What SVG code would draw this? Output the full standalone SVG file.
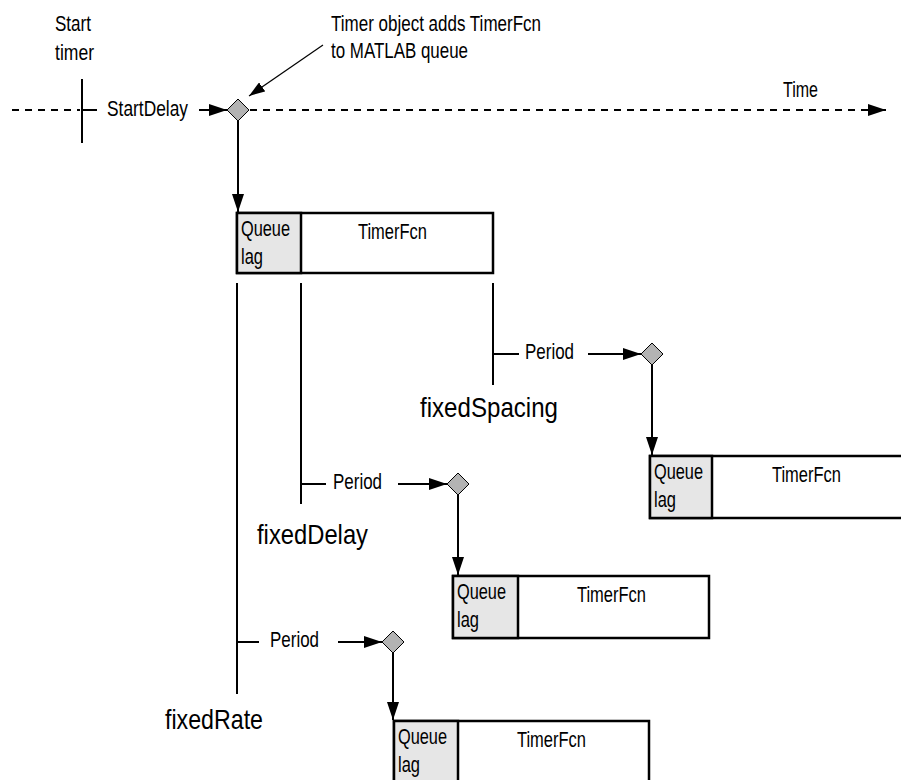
<svg xmlns="http://www.w3.org/2000/svg" width="901" height="780" viewBox="0 0 901 780">
<defs>
<style>
text{font-family:"Liberation Sans",Arial,sans-serif;fill:#000}
.s{font-size:22px}
.b{font-size:28px}
.ln{stroke:#000;stroke-width:2;fill:none}
.dash{stroke:#000;stroke-width:2;fill:none;stroke-dasharray:7 6}
.thin{stroke:#000;stroke-width:1.2;fill:none}
.dia{fill:#b3b3b3;stroke:#000;stroke-width:1}
.box{fill:#fff;stroke:#000;stroke-width:2.5}
.lag{fill:#e6e6e6;stroke:#000;stroke-width:2.5}
</style>
<marker id="ah" markerUnits="userSpaceOnUse" markerWidth="18" markerHeight="12" refX="18" refY="6" orient="auto">
<path d="M0,0 L18,6 L0,12 z" fill="#000"/>
</marker>
<marker id="ah2" markerUnits="userSpaceOnUse" markerWidth="16" markerHeight="11" refX="16" refY="5.5" orient="auto">
<path d="M0,0 L16,5.5 L0,11 z" fill="#000"/>
</marker>
</defs>

<g id="labels">
<text class="s" x="55" y="31" textLength="36" lengthAdjust="spacingAndGlyphs">Start</text>
<text class="s" x="55" y="60" textLength="39" lengthAdjust="spacingAndGlyphs">timer</text>
<text class="s" x="331" y="31" textLength="210" lengthAdjust="spacingAndGlyphs">Timer object adds TimerFcn</text>
<text class="s" x="331" y="58" textLength="137" lengthAdjust="spacingAndGlyphs">to MATLAB queue</text>
<text class="s" x="783" y="97" textLength="35" lengthAdjust="spacingAndGlyphs">Time</text>
<text class="s" x="107" y="116" textLength="81" lengthAdjust="spacingAndGlyphs">StartDelay</text>
<text class="s" x="525" y="359" textLength="49" lengthAdjust="spacingAndGlyphs">Period</text>
<text class="s" x="333" y="489" textLength="49" lengthAdjust="spacingAndGlyphs">Period</text>
<text class="s" x="270" y="647" textLength="49" lengthAdjust="spacingAndGlyphs">Period</text>
<text class="b" x="420" y="417" textLength="138" lengthAdjust="spacingAndGlyphs">fixedSpacing</text>
<text class="b" x="257" y="544" textLength="111" lengthAdjust="spacingAndGlyphs">fixedDelay</text>
<text class="b" x="165" y="729" textLength="98" lengthAdjust="spacingAndGlyphs">fixedRate</text>
</g>

<g id="connectors">
<line class="dash" x1="12" y1="110" x2="80" y2="110"/>
<line class="ln" x1="82" y1="79" x2="82" y2="143"/>
<line class="ln" x1="82" y1="110" x2="97" y2="110"/>
<line class="ln" x1="199" y1="110" x2="227" y2="110" marker-end="url(#ah)"/>
<line class="dash" x1="250" y1="110" x2="866" y2="110"/>
<line class="ln" x1="862" y1="110" x2="886" y2="110" marker-end="url(#ah)"/>
<line class="thin" x1="323" y1="45" x2="249" y2="96" marker-end="url(#ah2)"/>
<line class="ln" x1="238" y1="121" x2="238" y2="212" marker-end="url(#ah)"/>

<line class="ln" x1="237" y1="283" x2="237" y2="694"/>
<line class="ln" x1="301" y1="283" x2="301" y2="504"/>
<line class="ln" x1="493" y1="283" x2="493" y2="385"/>

<line class="ln" x1="493" y1="354" x2="519" y2="354"/>
<line class="ln" x1="588" y1="354" x2="641" y2="354" marker-end="url(#ah)"/>
<line class="ln" x1="652" y1="365" x2="652" y2="455" marker-end="url(#ah)"/>

<line class="ln" x1="301" y1="484" x2="326" y2="484"/>
<line class="ln" x1="398" y1="484" x2="447" y2="484" marker-end="url(#ah)"/>
<line class="ln" x1="458" y1="495" x2="458" y2="575" marker-end="url(#ah)"/>

<line class="ln" x1="237" y1="642" x2="259" y2="642"/>
<line class="ln" x1="338" y1="642" x2="382" y2="642" marker-end="url(#ah)"/>
<line class="ln" x1="393" y1="653" x2="393" y2="720" marker-end="url(#ah)"/>
</g>

<g id="diamond-start"><path class="dia" d="M238,99 L249,110 L238,121 L227,110 z"/></g>
<g id="diamond-spacing"><path class="dia" d="M652,343 L663,354 L652,365 L641,354 z"/></g>
<g id="diamond-delay"><path class="dia" d="M458,473 L469,484 L458,495 L447,484 z"/></g>
<g id="diamond-rate"><path class="dia" d="M393,631 L404,642 L393,653 L382,642 z"/></g>

<g id="box-first">
<rect class="box" x="237" y="213" width="256" height="60"/>
<rect class="lag" x="237" y="213" width="64" height="60"/>
<text class="s" x="241" y="236" textLength="49" lengthAdjust="spacingAndGlyphs">Queue</text>
<text class="s" x="241" y="264" textLength="22" lengthAdjust="spacingAndGlyphs">lag</text>
<text class="s" x="358" y="239" textLength="69" lengthAdjust="spacingAndGlyphs">TimerFcn</text>
</g>

<g id="box-spacing">
<rect class="box" x="650" y="456" width="270" height="62"/>
<rect class="lag" x="650" y="456" width="62" height="62"/>
<text class="s" x="654" y="479" textLength="49" lengthAdjust="spacingAndGlyphs">Queue</text>
<text class="s" x="654" y="507" textLength="22" lengthAdjust="spacingAndGlyphs">lag</text>
<text class="s" x="772" y="482" textLength="69" lengthAdjust="spacingAndGlyphs">TimerFcn</text>
</g>

<g id="box-delay">
<rect class="box" x="453" y="576" width="256" height="62"/>
<rect class="lag" x="453" y="576" width="65" height="62"/>
<text class="s" x="457" y="599" textLength="49" lengthAdjust="spacingAndGlyphs">Queue</text>
<text class="s" x="457" y="627" textLength="22" lengthAdjust="spacingAndGlyphs">lag</text>
<text class="s" x="577" y="602" textLength="69" lengthAdjust="spacingAndGlyphs">TimerFcn</text>
</g>

<g id="box-rate">
<rect class="box" x="394" y="721" width="255" height="80"/>
<rect class="lag" x="394" y="721" width="64" height="80"/>
<text class="s" x="398" y="744" textLength="49" lengthAdjust="spacingAndGlyphs">Queue</text>
<text class="s" x="398" y="772" textLength="22" lengthAdjust="spacingAndGlyphs">lag</text>
<text class="s" x="517" y="747" textLength="69" lengthAdjust="spacingAndGlyphs">TimerFcn</text>
</g>
</svg>
